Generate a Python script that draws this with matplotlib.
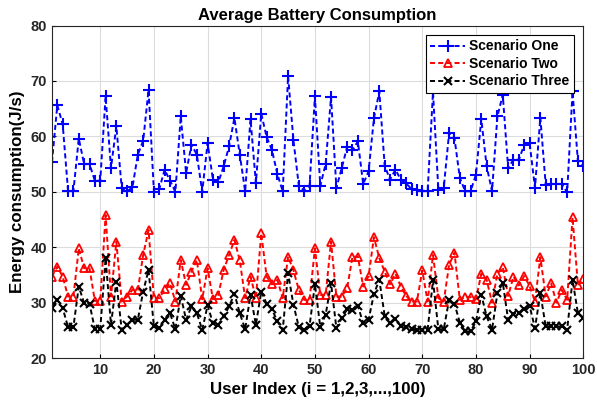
import numpy as np
import matplotlib
matplotlib.use('Agg')
import matplotlib.pyplot as plt

# datos
user_index = np.arange(1, 101)

scenario_one = [55.3, 65.6, 62.2, 50.2, 50.1, 59.6, 55.0, 55.0, 52.0, 52.0,
                67.2, 54.3, 61.8, 50.7, 50.1, 50.8, 56.7, 59.2, 68.4, 50.0,
                50.5, 54.0, 52.0, 50.0, 63.6, 53.4, 58.5, 56.7, 50.0, 58.8,
                52.2, 51.7, 54.6, 58.2, 63.3, 56.7, 50.1, 63.1, 51.6, 64.1,
                59.9, 57.5, 53.2, 50.1, 70.9, 59.3, 51.1, 50.2, 51.1, 67.2,
                51.1, 55.0, 67.1, 50.7, 54.3, 58.1, 57.5, 59.1, 51.4, 53.7,
                63.3, 68.1, 54.7, 52.2, 54.0, 52.2, 51.5, 50.5, 50.4, 50.2,
                50.1, 68.0, 50.4, 50.7, 60.6, 59.7, 52.5, 50.1, 50.1, 53.1,
                63.1, 54.6, 50.1, 63.6, 67.5, 54.3, 55.8, 55.8, 58.5, 58.8,
                50.7, 63.4, 51.3, 51.4, 51.4, 51.4, 49.9, 68.1, 55.5, 54.6]

scenario_two = [34.7, 36.5, 34.7, 31.1, 31.1, 39.8, 36.2, 36.2, 30.3, 30.3,
                45.8, 31.1, 41.0, 30.2, 31.1, 32.3, 32.3, 38.6, 43.1, 30.8,
                30.8, 32.4, 33.5, 30.2, 37.7, 33.2, 35.6, 37.7, 30.6, 36.2,
                30.6, 31.4, 35.9, 38.6, 41.3, 37.6, 30.8, 34.7, 30.8, 42.5,
                34.7, 33.3, 34.1, 30.8, 38.3, 35.8, 32.3, 30.5, 30.5, 39.8,
                31.4, 31.4, 41.0, 31.1, 31.1, 32.6, 38.3, 38.3, 32.9, 34.8,
                41.8, 38.0, 35.6, 33.3, 35.2, 32.9, 31.2, 30.2, 30.2, 35.8,
                30.2, 38.6, 30.8, 30.2, 36.8, 39.0, 30.5, 31.0, 31.0, 30.6,
                35.2, 34.1, 30.0, 35.2, 36.4, 31.2, 34.7, 33.1, 34.8, 33.0,
                30.2, 38.2, 31.1, 33.5, 30.0, 32.3, 30.5, 45.4, 33.2, 34.2]

scenario_three = [29.0, 30.5, 29.0, 25.6, 25.6, 32.9, 29.9, 29.8, 25.2, 25.2,
                  38.0, 26.0, 33.8, 25.1, 26.0, 26.9, 26.9, 32.0, 35.9, 25.7,
                  25.4, 26.9, 28.1, 25.2, 31.2, 26.9, 29.3, 28.1, 25.1, 29.5,
                  26.3, 26.0, 27.5, 29.3, 31.6, 28.1, 25.2, 31.4, 26.0, 32.0,
                  29.8, 28.8, 26.6, 25.1, 35.3, 29.6, 25.6, 25.1, 25.8, 33.3,
                  25.6, 27.8, 33.5, 25.4, 27.2, 28.8, 28.7, 29.4, 26.3, 26.9,
                  31.6, 34.1, 27.6, 26.3, 27.0, 25.8, 25.6, 25.2, 25.1, 25.1,
                  25.1, 34.0, 25.2, 25.2, 30.5, 29.8, 26.4, 24.8, 24.8, 26.6,
                  31.4, 27.5, 25.1, 31.7, 33.6, 26.9, 28.0, 28.2, 28.8, 29.4,
                  25.4, 31.7, 25.7, 25.7, 25.7, 25.7, 25.1, 34.1, 28.1, 27.3]

labels = ['Scenario One', 'Scenario Two', 'Scenario Three']
xticks = [10, 20, 30, 40, 50, 60, 70, 80, 90, 100]
yticks = [20, 30, 40, 50, 60, 70, 80]

plt.rcParams['font.family'] = ['Liberation Sans', 'DejaVu Sans']
plt.rcParams['font.weight'] = 'bold'

fig = plt.figure(figsize=(5.97, 4.12), dpi=100)
ax = fig.add_axes([0.087, 0.131, 0.890, 0.807])

dash = (2.6, 1.6)
ax.plot(user_index, scenario_one, '--+', color='blue', lw=1.4, ms=8, mew=1.5,
        dashes=dash, label=labels[0])
ax.plot(user_index, scenario_two, '--^', color='red', lw=1.4, ms=6, mew=1.3,
        mfc='none', dashes=dash, label=labels[1])
ax.plot(user_index, scenario_three, '--x', color='black', lw=1.4, ms=5.5, mew=1.5,
        dashes=dash, label=labels[2])

ax.set_xlim(1, 100)
ax.set_ylim(20, 80)
ax.set_xticks(xticks)
ax.set_yticks(yticks)
ax.tick_params(labelsize=10.5, direction='in', length=3, width=0.8)
for lab in ax.get_xticklabels() + ax.get_yticklabels():
    lab.set_fontweight('bold')
    lab.set_color('#262626')
ax.grid(True, color='#dcdcdc', lw=0.8)
ax.set_axisbelow(True)
for s in ax.spines.values():
    s.set_color('#262626')
    s.set_linewidth(0.8)

ax.set_title('Average Battery Consumption', fontsize=12, fontweight='bold', pad=4)
ax.set_xlabel('User Index (i = 1,2,3,...,100)', fontsize=12.2, fontweight='bold')
ax.set_ylabel('Energy consumption(J/s)', fontsize=12.2, fontweight='bold')

leg = ax.legend(loc='upper right', fontsize=10, frameon=True, fancybox=False,
                edgecolor='black', framealpha=1, handlelength=2.5,
                handletextpad=0.3, borderpad=0.3, labelspacing=0.25,
                borderaxespad=0.7)
leg.get_frame().set_linewidth(0.8)

fig.savefig('out.png', dpi=100)
